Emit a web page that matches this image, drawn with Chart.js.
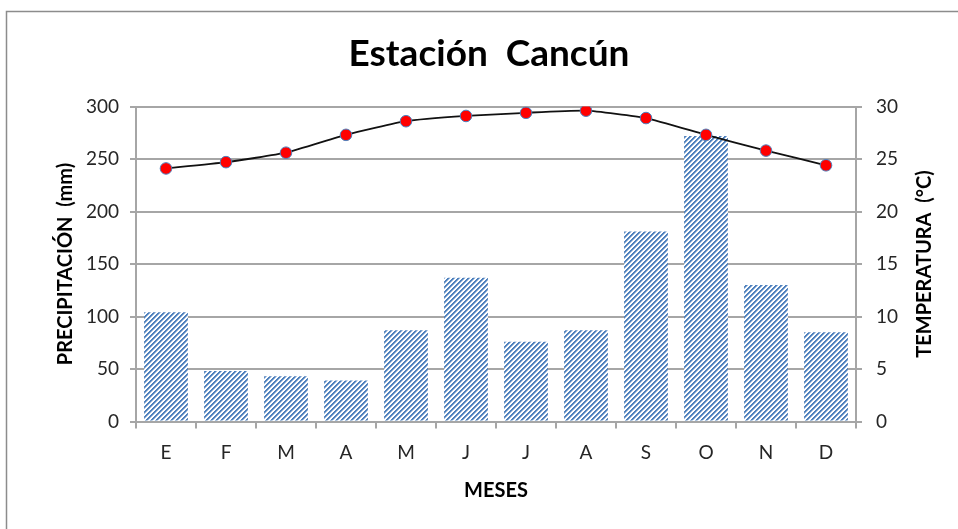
<!DOCTYPE html>
<html>
<head>
<meta charset="utf-8">
<script src="https://cdn.jsdelivr.net/npm/chart.js@4.4.1/dist/chart.umd.min.js"></script>
<style>
  html, body { margin: 0; padding: 0; background: #fff; }
  #wrap { position: relative; width: 958px; height: 529px; }
</style>
</head>
<body>
<div id="wrap"><canvas id="c" width="958" height="529"></canvas></div>
<script>
// Monthly climate data for Cancún station
const months = ['E', 'F', 'M', 'A', 'M', 'J', 'J', 'A', 'S', 'O', 'N', 'D'];
const precipitation = [104, 48, 43, 39, 87, 137, 76, 87, 181, 272, 130, 85];   // mm
const temperature = [24.1, 24.7, 25.6, 27.3, 28.6, 29.1, 29.4, 29.6, 28.9, 27.3, 25.8, 24.4]; // °C
const precipTicks = { min: 0, max: 300, step: 50 };
const tempTicks = { min: 0, max: 30, step: 5 };

const FONT = 'Lato, "Open Sans", sans-serif';
const GRID = '#a6a6a6';
const TICK_COLOR = '#262626';

// Pixel-exact upward diagonal hatch for the rain bars
function hatchPattern() {
  const n = 5;
  const shades = ['#4f81bd', '#4f81bd', '#9db9dc', '#ffffff', '#ffffff'];
  const t = document.createElement('canvas');
  t.width = n; t.height = n;
  const g = t.getContext('2d');
  for (let y = 0; y < n; y++) {
    for (let x = 0; x < n; x++) {
      g.fillStyle = shades[(x + y) % n];
      g.fillRect(x, y, 1, 1);
    }
  }
  return document.getElementById('c').getContext('2d').createPattern(t, 'repeat');
}

// Outer frame and right-hand axis title (reads bottom to top)
const decorations = {
  id: 'decorations',
  beforeDraw(chart) {
    const ctx = chart.ctx;
    ctx.save();
    ctx.strokeStyle = '#8c8c8c';
    ctx.lineWidth = 1.5;
    ctx.strokeRect(6.5, 11.5, 1000, 1000);
    ctx.restore();
  },
  afterDraw(chart) {
    const ctx = chart.ctx;
    const a = chart.chartArea;
    ctx.save();
    ctx.translate(925, (a.top + a.bottom) / 2);
    ctx.rotate(-Math.PI / 2);
    ctx.font = 'bold 20px ' + FONT;
    ctx.fillStyle = '#000';
    ctx.textAlign = 'center';
    ctx.textBaseline = 'middle';
    ctx.fillText('TEMPERATURA  (°C)', 0, 0);
    ctx.restore();
  }
};

new Chart(document.getElementById('c'), {
  data: {
    labels: months,
    datasets: [
      {
        type: 'line',
        label: 'Temperatura',
        data: temperature,
        yAxisID: 'y1',
        borderColor: '#111',
        borderWidth: 1.8,
        tension: 0.15,
        pointRadius: 5.8,
        pointBackgroundColor: '#ff0000',
        pointBorderColor: '#4f81bd',
        pointBorderWidth: 1,
        order: 0
      },
      {
        type: 'bar',
        label: 'Precipitación',
        data: precipitation,
        yAxisID: 'y',
        backgroundColor: hatchPattern(),
        borderWidth: 0,
        barPercentage: 0.73,
        categoryPercentage: 1,
        order: 1
      }
    ]
  },
  options: {
    responsive: false,
    animation: false,
    events: [],
    layout: { padding: { left: 20, right: 0, top: 0, bottom: 0 } },
    plugins: {
      legend: { display: false },
      tooltip: { enabled: false },
      title: {
        display: true,
        text: 'Estación  Cancún',
        color: '#000',
        font: { family: FONT, size: 37, weight: 'bold', lineHeight: 1.2 },
        padding: { top: 32, bottom: 30.1 }
      }
    },
    scales: {
      x: {
        position: 'bottom',
        grid: { display: true, drawOnChartArea: false, drawTicks: true, tickLength: 7, color: GRID, lineWidth: 2 },
        border: { display: true, color: GRID, width: 2 },
        ticks: { color: TICK_COLOR, font: { family: FONT, size: 19 }, padding: 13 },
        title: {
          display: true, text: 'MESES', color: '#000',
          font: { family: FONT, size: 20, weight: 'bold' },
          padding: { top: 0, bottom: 26 }
        },
        afterFit(s) { s.height = 107.5; }
      },
      y: {
        position: 'left',
        min: precipTicks.min, max: precipTicks.max,
        ticks: { stepSize: precipTicks.step, color: TICK_COLOR, font: { family: FONT, size: 19 }, padding: 11 },
        grid: { color: GRID, lineWidth: 2, tickLength: 6 },
        border: { display: true, color: GRID, width: 2 },
        title: {
          display: true, text: 'PRECIPITACIÓN  (mm)', color: '#000',
          font: { family: FONT, size: 20, weight: 'bold' },
          padding: { top: 34, bottom: 0 }
        },
        afterFit(s) { s.width = 116; }
      },
      y1: {
        position: 'right',
        min: tempTicks.min, max: tempTicks.max,
        ticks: { stepSize: tempTicks.step, color: TICK_COLOR, font: { family: FONT, size: 19 }, padding: 14 },
        grid: { drawOnChartArea: false, color: GRID, lineWidth: 2, tickLength: 6 },
        border: { display: true, color: GRID, width: 2 },
        afterFit(s) { s.width = 102; }
      }
    }
  },
  plugins: [decorations]
});
</script>
</body>
</html>
